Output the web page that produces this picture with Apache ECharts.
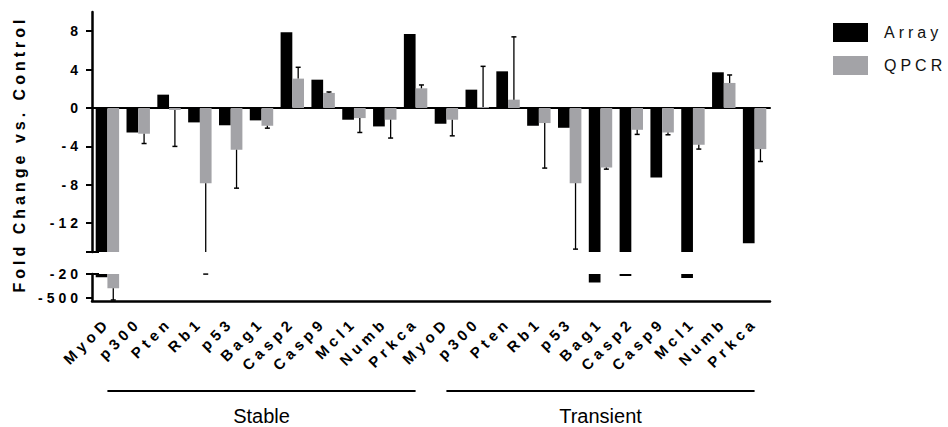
<!DOCTYPE html>
<html><head><meta charset="utf-8">
<script src="https://cdn.jsdelivr.net/npm/echarts@6/dist/echarts.min.js"></script>
<style>
html,body{margin:0;padding:0;background:#fff}
#c{width:948px;height:427px}
#c text{letter-spacing:4px}
#c text[style*="15px"]{letter-spacing:4.5px}
#c text[style*="20px"]{letter-spacing:0}
</style></head><body><div id="c"></div>
<script>
const categories = ['MyoD','p300','Pten','Rb1','p53','Bag1','Casp2','Casp9','Mcl1','Numb','Prkca',
                    'MyoD','p300','Pten','Rb1','p53','Bag1','Casp2','Casp9','Mcl1','Numb','Prkca'];
const groups = ['Stable','Transient'];
const groupSize = 11;
const arrayValues = [-85, -2.55, 1.39, -1.5, -1.8, -1.29, 7.9, 2.95, -1.22, -1.92, 7.72,
                     -1.64, 1.91, 3.82, -1.85, -2.06, -190, -60, -7.24, -100, 3.72, -14.1];
const qpcrValues  = [-305, -2.68, -0.2, -7.83, -4.35, -1.85, 3.06, 1.57, -1.05, -1.22, 2.05,
                     -1.22, 0.1, 0.87, -1.57, -7.83, -6.2, -2.27, -2.55, -3.83, 2.61, -4.28];
const qpcrErrorEnds = [-540, -3.7, -4.0, -22, -8.35, -2.1, 4.24, 1.67, -2.55, -3.13, 2.4,
                       -2.9, 4.34, 7.41, -6.26, -14.7, -6.37, -2.75, -2.79, -4.28, 3.44, -5.57];
const upperTicks = [8, 4, 0, -4, -8, -12];
const lowerTicks = [-20, -500];
const seriesNames = ['Array', 'QPCR'];

const FONT = '"Liberation Sans", Arial, sans-serif';
const GREY = '#a3a3a7';
const chart = echarts.init(document.getElementById('c'), null, {renderer: 'svg'});

const errData = categories.map((c, i) => [i, qpcrValues[i], qpcrErrorEnds[i]]);

function renderErr(params, api) {
  const i = api.value(0), v = api.value(1), e = api.value(2);
  const band = api.size([1, 0])[0];
  const cx = api.coord([i, 0])[0] + band * 0.19;
  const y1 = api.coord([i, v])[1], y2 = api.coord([i, e])[1];
  const cs = params.coordSys;
  const top = cs.y, bot = cs.y + cs.height;
  const lo = Math.min(y1, y2), hi = Math.max(y1, y2);
  if (hi < top || lo > bot) return null;
  const a = Math.max(lo, top), b = Math.min(hi, bot);
  const children = [{type: 'line', shape: {x1: cx, y1: a, x2: cx, y2: b}, style: {stroke: '#000', lineWidth: 1.3}}];
  if (y2 >= top - 0.5 && y2 <= bot + 0.5) {
    children.push({type: 'line', shape: {x1: cx - 2.5, y1: y2, x2: cx + 2.5, y2: y2}, style: {stroke: '#000', lineWidth: 1.5}});
  }
  return {type: 'group', children};
}

function barSeries(gi) {
  return [
    {name: seriesNames[0], type: 'bar', xAxisIndex: gi, yAxisIndex: gi, data: arrayValues, barWidth: '38%', barGap: '0%',
     itemStyle: {color: '#000'}, clip: true, z: 3},
    {name: seriesNames[1], type: 'bar', xAxisIndex: gi, yAxisIndex: gi, data: qpcrValues, barWidth: '38%', barGap: '0%',
     itemStyle: {color: GREY}, clip: true, z: 3},
    {type: 'custom', xAxisIndex: gi, yAxisIndex: gi, data: errData, renderItem: renderErr,
     encode: {x: 0, y: [1, 2]}, z: 4, silent: true}
  ];
}

const yTickLabel = {fontFamily: FONT, fontWeight: 'bold', fontSize: 14, color: '#000'};
const xTickLabel = {fontFamily: FONT, fontWeight: 'bold', fontSize: 15, color: '#000'};

chart.setOption({
  animation: false,
  backgroundColor: '#fff',
  legend: {data: seriesNames, orient: 'vertical', left: 833, top: 23, padding: 0, itemWidth: 35, itemHeight: 19, itemGap: 14,
           icon: 'rect', selectedMode: false,
           textStyle: {fontFamily: FONT, fontSize: 16, color: '#111', padding: [0, 0, 0, 11]}},
  grid: [
    {left: 92, right: 178, top: 12, height: 240},
    {left: 92, right: 178, top: 274, height: 27}
  ],
  xAxis: [
    {gridIndex: 0, type: 'category', data: categories, axisLine: {onZero: true, lineStyle: {color: '#000', width: 2}},
     axisTick: {show: false}, axisLabel: {show: false}, splitLine: {show: false}},
    {gridIndex: 1, type: 'category', data: categories, axisLine: {onZero: false, lineStyle: {color: '#000', width: 2.5}},
     axisTick: {alignWithLabel: true, length: 6, lineStyle: {color: '#000', width: 2}},
     axisLabel: Object.assign({rotate: 45, interval: 0, margin: 19}, xTickLabel), splitLine: {show: false}}
  ],
  yAxis: [
    {gridIndex: 0, type: 'value', min: -15, max: 10,
     axisLine: {show: true, lineStyle: {color: '#000', width: 2.5}},
     axisTick: {show: true, customValues: upperTicks, length: 6, lineStyle: {color: '#000', width: 2}},
     axisLabel: Object.assign({customValues: upperTicks, margin: 10}, yTickLabel), splitLine: {show: false}},
    {gridIndex: 1, type: 'value', min: -560, max: -20,
     axisLine: {show: true, lineStyle: {color: '#000', width: 2.5}},
     axisTick: {show: true, customValues: lowerTicks, length: 6, lineStyle: {color: '#000', width: 2}},
     axisLabel: Object.assign({customValues: lowerTicks, margin: 10}, yTickLabel), splitLine: {show: false}}
  ],
  series: barSeries(0).concat(barSeries(1))
});

// decorations positioned through the axes
const leftEdge = 92;
const yBreakTop = chart.convertToPixel({yAxisIndex: 0}, -15);
const yBreakBot = chart.convertToPixel({yAxisIndex: 1}, -20);
const graphics = [
  {type: 'line', shape: {x1: leftEdge - 6, y1: yBreakTop, x2: leftEdge + 7, y2: yBreakTop}, style: {stroke: '#000', lineWidth: 2}, z: 10},
  {type: 'line', shape: {x1: leftEdge - 6, y1: yBreakBot, x2: leftEdge + 7, y2: yBreakBot}, style: {stroke: '#000', lineWidth: 2}, z: 10},
  {type: 'text', x: 19, y: 154, rotation: Math.PI / 2,
   style: {text: 'Fold Change vs. Control', fontFamily: FONT, fontWeight: 'bold', fontSize: 16, fill: '#000',
           textAlign: 'center', textVerticalAlign: 'middle'}}
];
groups.forEach((g, k) => {
  const x1 = chart.convertToPixel({xAxisIndex: 1}, k * groupSize);
  const x2 = chart.convertToPixel({xAxisIndex: 1}, k * groupSize + groupSize - 1);
  graphics.push({type: 'line', shape: {x1: x1, y1: 391, x2: x2, y2: 391}, style: {stroke: '#000', lineWidth: 2}});
  graphics.push({type: 'text', x: (x1 + x2) / 2, y: 416,
    style: {text: g, fontFamily: FONT, fontSize: 20, fill: '#000', textAlign: 'center', textVerticalAlign: 'middle'}});
});
chart.setOption({graphic: graphics});
</script></body></html>
